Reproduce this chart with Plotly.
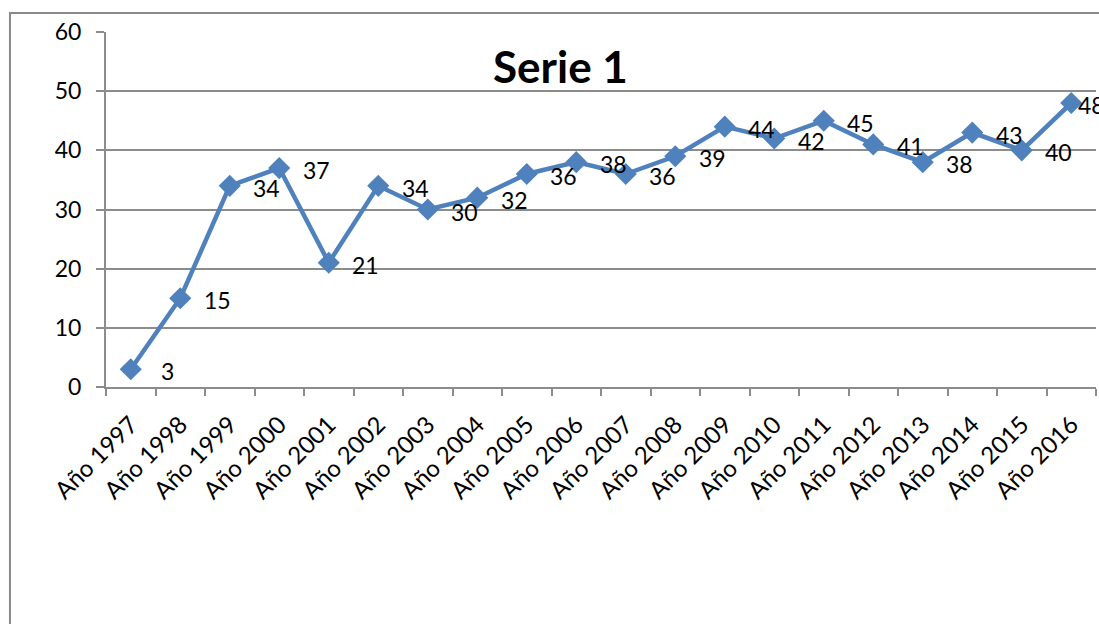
import plotly.graph_objects as go

categories = ["Año 1997", "Año 1998", "Año 1999", "Año 2000", "Año 2001", "Año 2002",
              "Año 2003", "Año 2004", "Año 2005", "Año 2006", "Año 2007", "Año 2008",
              "Año 2009", "Año 2010", "Año 2011", "Año 2012", "Año 2013", "Año 2014",
              "Año 2015", "Año 2016"]
values = [3, 15, 34, 37, 21, 34, 30, 32, 36, 38, 36, 39, 44, 42, 45, 41, 38, 43, 40, 48]
series_name = "Serie 1"

FONT = "Lato"
GRID = "#8c8c8c"
BLUE = "#4F81BD"

fig = go.Figure()
fig.add_trace(go.Scatter(
    x=categories, y=values, mode="lines+markers",
    name=series_name,
    line=dict(color=BLUE, width=4.5),
    marker=dict(symbol="diamond", size=17, color=BLUE),
    cliponaxis=False,
    showlegend=False,
))

annotations = [dict(
    text="<b>" + series_name + "</b>", xref="paper", yref="paper",
    x=0.459, y=0.905, xanchor="center", yanchor="middle",
    showarrow=False, font=dict(family=FONT, size=44, color="black"),
)]
last = len(categories) - 1
for i, (c, v) in enumerate(zip(categories, values)):
    # labels sit to the right of each point; the last one is pulled in toward the chart edge
    annotations.append(dict(
        x=c, y=v, xref="x", yref="y", text=str(v), showarrow=False,
        xanchor="left" if i == last else "center", yanchor="middle",
        xshift=5 if i == last else 37, yshift=-2,
        font=dict(family=FONT, size=23, color="black"),
    ))

fig.update_layout(
    width=1099, height=624,
    margin=dict(l=106, r=3, t=32, b=237),
    paper_bgcolor="white", plot_bgcolor="white",
    font=dict(family=FONT, color="black"),
    xaxis=dict(
        type="category", tickangle=-45, tickson="boundaries",
        ticks="outside", ticklen=7, tickcolor=GRID, tickwidth=1.5,
        showline=True, linecolor=GRID, linewidth=2,
        showgrid=False, tickfont=dict(family=FONT, size=24),
        ticklabelstandoff=12,
        range=[-0.5, len(categories) - 0.5],
    ),
    yaxis=dict(
        range=[0, 60], dtick=10, ticks="outside", ticklen=8,
        tickcolor=GRID, tickwidth=1.5,
        showline=True, linecolor=GRID, linewidth=2,
        showgrid=True, gridcolor=GRID, gridwidth=1.5,
        zeroline=False, tickfont=dict(family=FONT, size=23),
        ticklabelstandoff=10,
    ),
    annotations=annotations,
    shapes=[dict(
        type="rect", xref="paper", yref="paper",
        x0=-0.097, x1=1.2, y0=-0.8, y1=1.0535,
        line=dict(color="#8a8a8a", width=2), layer="below",
    )],
)

fig.write_html(
    "out.html",
    config={"displayModeBar": False},
    post_script="document.body.style.margin='0';document.body.style.overflow='hidden';",
)
